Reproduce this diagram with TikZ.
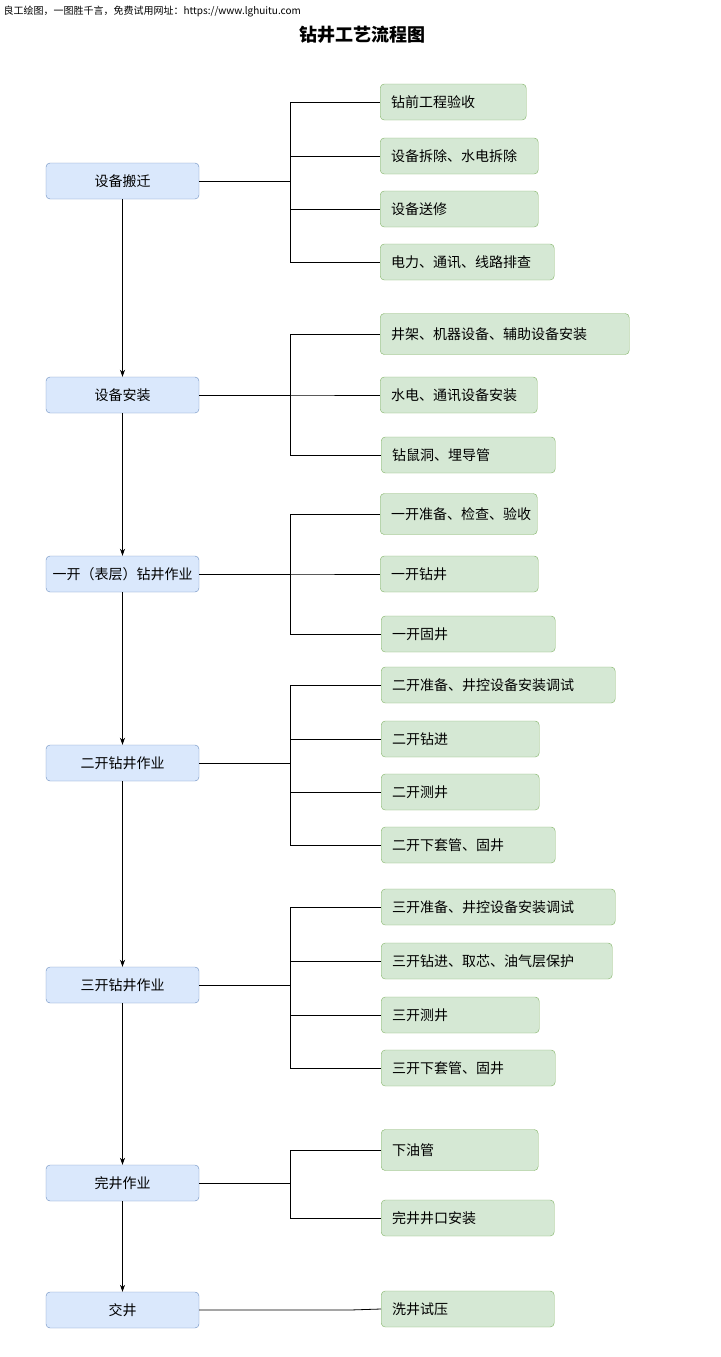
\documentclass[tikz,border=0pt]{standalone}
\usepackage{fontspec}
\setmainfont{Noto Sans CJK SC}
\usetikzlibrary{arrows.meta}
\definecolor{bf}{HTML}{DAE8FC}\definecolor{bs}{HTML}{6C8EBF}
\definecolor{gf}{HTML}{D5E8D4}\definecolor{gs}{HTML}{82B366}
\begin{document}
\begin{tikzpicture}[x=1pt,y=-1pt,
 L/.style={draw=bs,fill=bf,rounded corners=4pt,minimum width=153pt,minimum height=36pt,font=\fontsize{14}{16}\selectfont,inner sep=0pt},
 R/.style={draw=gs,fill=gf,rounded corners=4pt,minimum height=36pt,anchor=west,align=left,font=\fontsize{14}{16}\selectfont,inner ysep=0pt,inner xsep=11pt,text width=#1-22pt},
 ln/.style={draw=black,line width=0.8pt},
 ar/.style={ln,-{Stealth[length=7pt,width=5pt]}}]
\useasboundingbox (0,0) rectangle (720,1357);
\node[anchor=west,font=\fontsize{10}{12}\selectfont] (hdr) at (0,12) {良工绘图，一图胜千言，免费试用网址：https://www.lghuitu.com};
\node[font=\fontsize{18}{20}\selectfont\bfseries] (title) at (362,35) {钻井工艺流程图};
\foreach \n/\y/\t in {a/181/设备搬迁,b/395/设备安装,c/574/一开（表层）钻井作业,d/763/二开钻井作业,e/985/三开钻井作业,f/1183/完井作业,g/1310/交井}
  \node[L] (\n) at (122.5,\y) {\t};
\foreach \s/\t in {a/b,b/c,c/d,d/e,e/f,f/g} \draw[ar] (\s) -- (\t);
\foreach \n/\x/\y/\w/\h/\t in {
 a1/380/102/146/36/钻前工程验收, a2/380/156/158/36/设备拆除、水电拆除, a3/380/209/158/36/设备送修, a4/380/262/174/36/电力、通讯、线路排查,
 b1/380/334/249/41/井架、机器设备、辅助设备安装, b2/380/395/157/36/水电、通讯设备安装, b3/381/455/174/36/钻鼠洞、埋导管,
 c1/380/514/157/41/一开准备、检查、验收, c2/380/574/158/36/一开钻井, c3/381/634/174/36/一开固井,
 d1/381/685/234/36/二开准备、井控设备安装调试, d2/381/739/158/36/二开钻进, d3/381/792/158/36/二开测井, d4/381/845/174/36/二开下套管、固井,
 e1/381/907/234/36/三开准备、井控设备安装调试, e2/381/961/231/36/三开钻进、取芯、油气层保护, e3/381/1015/158/36/三开测井, e4/381/1068/174/36/三开下套管、固井,
 f1/381/1150/157/41/下油管, f2/381/1218/173/36/完井井口安装, g1/381/1309/173/36/洗井试压}
  \node[R=\w pt,minimum height=\h pt] (\n) at (\x,\y) {\t};
\foreach \p/\cs in {a/{a1,a2,a3,a4},b/{b1,b2,b3},c/{c1,c2,c3},d/{d1,d2,d3,d4},e/{e1,e2,e3,e4},f/{f1,f2}}
  \foreach \c in \cs \draw[ln] (\p.east) -- (290,0 |- \p.east) |- (\c.west);
\draw[ln] (g.east) -- (350,1310) -- (g1.west);
\end{tikzpicture}
\end{document}
